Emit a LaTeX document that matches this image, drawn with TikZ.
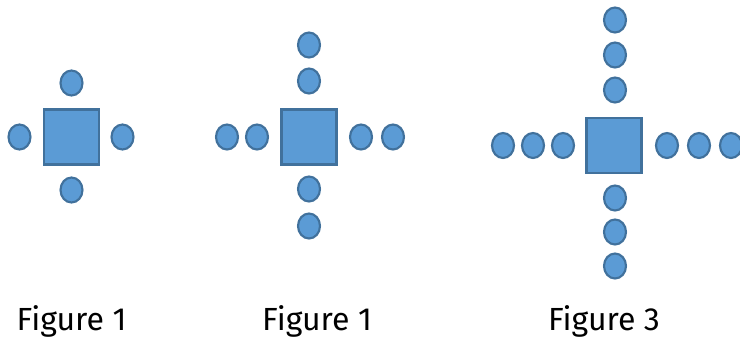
\documentclass[tikz,border=0pt]{standalone}
\usepackage{tikz}
\usetikzlibrary{positioning}
\usetikzlibrary{shapes.geometric}
\usepackage{fontspec}
\setmainfont{Fira Sans}
\definecolor{seatblue}{HTML}{5B9BD5}
\definecolor{seatedge}{HTML}{41719C}

\tikzset{
  seat/.style={ellipse, draw=seatedge, fill=seatblue, line width=1.6pt,
    minimum width=16.5pt, minimum height=18.75pt, inner sep=0pt},
  tablebox/.style={rectangle, draw=seatedge, fill=seatblue, line width=1.6pt,
    minimum size=41.25pt, inner sep=0pt},
  caption/.style={anchor=base, inner sep=0pt, font=\fontsize{24}{28}\selectfont}
}

\begin{document}
\begin{tikzpicture}[x=0.75pt,y=-0.75pt]
\useasboundingbox (0,0) rectangle (740,340);

% Figure 1
\begin{scope}[shift={(71.5,137)}]{
\node[tablebox] (t1) at (0,0) {};

\node[seat] (s1n) at (0,-54) {};
\node[seat] (s1w) at (-52,0) {};
\node[seat] (s1e) at (51,0) {};
\node[seat] (s1s) at (0,53) {};
} \end{scope}

% Figure 2
\begin{scope}[shift={(309,137)}]{
\node[tablebox] (t2) at (0,0) {};

\node[seat] (s2n1) at (0,-92) {};
\node[seat] (s2n2) at (0,-56) {};

\node[seat] (s2w1) at (-82,0) {};
\node[seat] (s2w2) at (-52,0) {};

\node[seat] (s2e1) at (52,0) {};
\node[seat] (s2e2) at (84,0) {};

\node[seat] (s2s1) at (0,52) {};
\node[seat] (s2s2) at (0,89) {};
} \end{scope}

% Figure 3
\begin{scope}[shift={(614,145.5)}]{
\node[tablebox] (t3) at (0,0) {};

\node[seat] (s3n1) at (1,-125.5) {};
\node[seat] (s3n2) at (1,-90.5) {};
\node[seat] (s3n3) at (1,-55.5) {};

\node[seat] (s3w1) at (-111,0) {};
\node[seat] (s3w2) at (-81,0) {};
\node[seat] (s3w3) at (-51,0) {};

\node[seat] (s3e1) at (53,0) {};
\node[seat] (s3e2) at (85,0) {};
\node[seat] (s3e3) at (117,0) {};

\node[seat] (s3s1) at (1,52.5) {};
\node[seat] (s3s2) at (1,86.5) {};
\node[seat] (s3s3) at (1,120.5) {};
} \end{scope}

% captions
{
\node[caption] (cap1) at (71.5,330) {Figure 1};
\node[caption] (cap2) at (317,330) {Figure 1};
\node[caption] (cap3) at (604,330) {Figure 3};
}

\end{tikzpicture}
\end{document}
